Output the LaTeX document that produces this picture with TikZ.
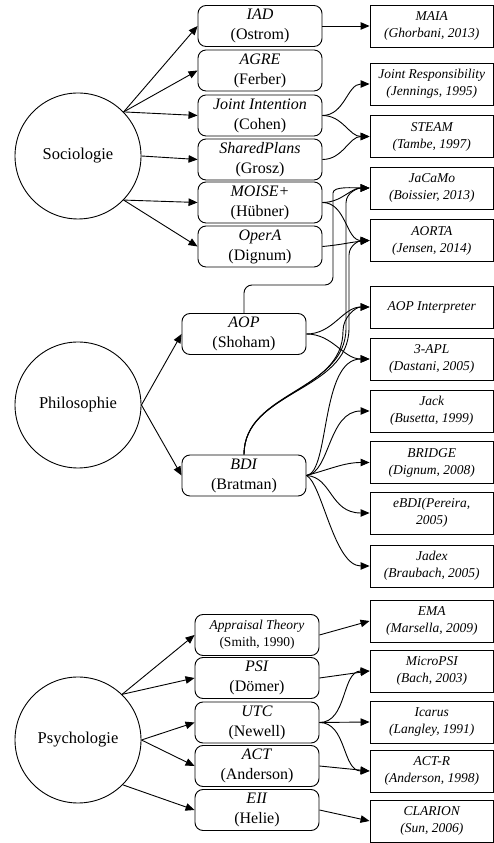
\documentclass[tikz,border=0pt]{standalone}
\usepackage{fontspec}
\setmainfont{Liberation Serif}
\usetikzlibrary{arrows.meta,calc}
\begin{document}
\begin{tikzpicture}[x=1pt,y=1pt,line width=0.9pt,
  field/.style={circle,draw,minimum size=126pt,inner sep=0pt,font=\fontsize{16.5}{20}\selectfont},
  theory/.style={draw,rounded corners=8pt,minimum width=124pt,minimum height=41pt,inner sep=0pt,align=center,font=\fontsize{16}{20}\selectfont},
  impl/.style={draw,minimum width=123.5pt,minimum height=42pt,inner sep=0pt,align=center,font=\fontsize{13.5}{17}\selectfont\itshape},
  arr/.style={-{Triangle[length=9pt,width=7.5pt]}},
]
\useasboundingbox (0,0) rectangle (494,843);

% research fields
\node[field] (soc)  at (78,687) {Sociologie};
\node[field] (phil) at (78,438) {Philosophie};
\node[field] (psy)  at (78,103) {Psychologie};

% theories from sociology
\node[theory] (iad)   at (260,817)   {\textit{IAD}\\(Ostrom)};
\node[theory] (agre)  at (260,772.5) {\textit{AGRE}\\(Ferber)};
\node[theory] (ji)    at (260,727.5) {\textit{Joint Intention}\\(Cohen)};
\node[theory] (sp)    at (260,683.5) {\textit{SharedPlans}\\(Grosz)};
\node[theory] (moise) at (260,640.5) {\textit{MOISE+}\\(Hübner)};
\node[theory] (opera) at (260,596.5) {\textit{OperA}\\(Dignum)};

% theories from philosophy
\node[theory] (aop) at (244,509)   {\textit{AOP}\\(Shoham)};
\node[theory] (bdi) at (244,367.5) {\textit{BDI}\\(Bratman)};

% theories from psychology
\node[theory,font=\fontsize{13.5}{17}\selectfont] (app) at (257,208) {\textit{Appraisal Theory}\\(Smith, 1990)};
\node[theory] (psi) at (257,165)   {\textit{PSI}\\(Dömer)};
\node[theory] (utc) at (257,120.5) {\textit{UTC}\\(Newell)};
\node[theory] (act) at (257,77)    {\textit{ACT}\\(Anderson)};
\node[theory] (eii) at (257,33)    {\textit{EII}\\(Helie)};

% implementations
\node[impl] (maia)    at (431.75,817)   {MAIA\\(Ghorbani, 2013)};
\node[impl] (jr)      at (431.75,759)   {Joint Responsibility\\(Jennings, 1995)};
\node[impl] (steam)   at (431.75,706.5) {STEAM\\(Tambe, 1997)};
\node[impl] (jacamo)  at (431.75,655)   {JaCaMo\\(Boissier, 2013)};
\node[impl] (aorta)   at (431.75,602.5) {AORTA\\(Jensen, 2014)};
\node[impl] (aopi)    at (431.75,536)   {AOP Interpreter};
\node[impl] (apl)     at (431.75,484)   {3-APL\\(Dastani, 2005)};
\node[impl] (jack)    at (431.75,432)   {Jack\\(Busetta, 1999)};
\node[impl] (bridge)  at (431.75,380.5) {BRIDGE\\(Dignum, 2008)};
\node[impl] (ebdi)    at (431.75,330)   {eBDI(Pereira,\\2005)};
\node[impl] (jadex)   at (431.75,277)   {Jadex\\(Braubach, 2005)};
\node[impl] (ema)     at (431.75,222)   {EMA\\(Marsella, 2009)};
\node[impl] (micro)   at (431.75,172)   {MicroPSI\\(Bach, 2003)};
\node[impl] (icarus)  at (431.75,121)   {Icarus\\(Langley, 1991)};
\node[impl] (actr)    at (431.75,72)    {ACT-R\\(Anderson, 1998)};
\node[impl] (clarion) at (431.75,22)    {CLARION\\(Sun, 2006)};

% fields to theories
\draw[arr] (soc.44) -- (iad.west);
\draw[arr] (soc.44) -- (agre.west);
\draw[arr] (soc.44) -- (ji.west);
\draw[arr] (soc.east) -- (sp.west);
\draw[arr] (soc.-44) -- (moise.west);
\draw[arr] (soc.-44) -- (opera.west);

\draw[arr] (phil.east) -- (aop.west);
\draw[arr] (phil.east) -- (bdi.west);

\draw[arr] (psy.46) -- (app.west);
\draw[arr] (psy.46) -- (psi.west);
\draw[arr] (psy.east) -- (utc.west);
\draw[arr] (psy.east) -- (act.west);
\draw[arr] (psy.-45) -- (eii.west);

% sociology theories to implementations
\draw[arr] (iad.east) -- (maia.west);
\draw[arr] (ji.east) to[out=0,in=180] (jr.west);
\draw[arr] (ji.east) to[out=0,in=180] (steam.west);
\draw[arr] (sp.east) to[out=0,in=180] (steam.west);
\draw[arr] (moise.east) to[out=0,in=180] (jacamo.west);
\draw[arr] (moise.east) to[out=0,in=180] (aorta.west);
\draw[arr] (opera.east) to[out=5,in=185] (aorta.west);

% philosophy theories to implementations
\draw[arr,rounded corners=8pt] (aop.north) |- (333,558) -- (333,642) to[out=90,in=180] (jacamo.west);
\draw[arr] (aop.east) to[out=0,in=180] (aopi.west);
\draw[arr] (aop.east) to[out=0,in=180] (apl.west);
\draw[arr] (bdi.north) to[out=90,in=-90] (343,512) to[out=90,in=180] (aopi.west);
\draw[arr] (bdi.north) to[out=90,in=-90] (346,515) -- (346,640) to[out=90,in=180] (jacamo.west);
\draw[arr] (bdi.north) to[out=90,in=-90] (349,515) -- (349,588) to[out=90,in=180] (aorta.west);
\draw[arr] (bdi.east) .. controls (330,370) and (320,484) .. (apl.west);
\draw[arr] (bdi.east) .. controls (330,370) and (328,432) .. (jack.west);
\draw[arr] (bdi.east) to[out=15,in=180] (bridge.west);
\draw[arr] (bdi.east) .. controls (332,366) and (330,330) .. (ebdi.west);
\draw[arr] (bdi.east) .. controls (322,360) and (334,277) .. (jadex.west);

% psychology theories to implementations
\draw[arr] (app.east) -- (ema.west);
\draw[arr] (psi.east) -- (micro.west);
\draw[arr] (utc.east) to[out=0,in=180] (micro.west);
\draw[arr] (utc.east) -- (icarus.west);
\draw[arr] (utc.east) to[out=0,in=180] (actr.west);
\draw[arr] (act.east) -- (actr.west);
\draw[arr] (eii.east) -- (clarion.west);
\end{tikzpicture}
\end{document}
